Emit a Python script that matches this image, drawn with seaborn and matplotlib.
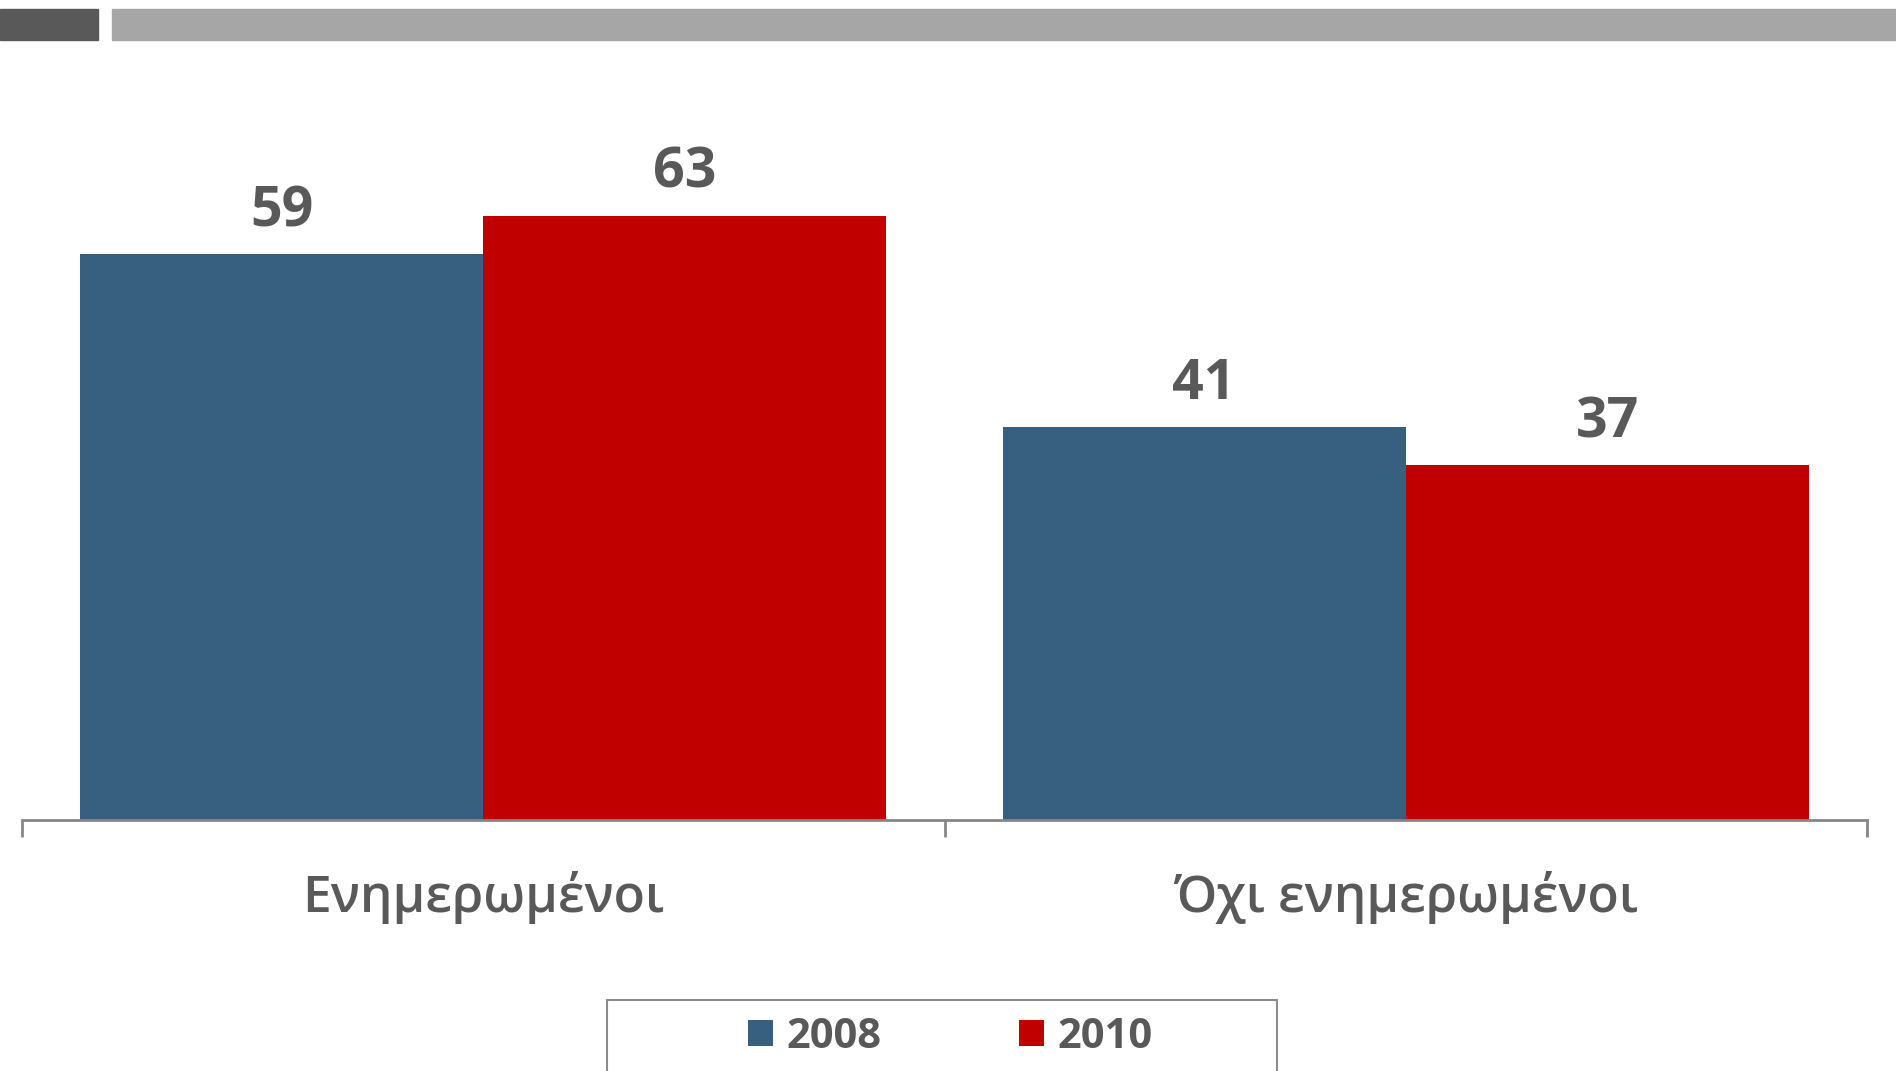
import matplotlib
matplotlib.use("Agg")
import matplotlib.pyplot as plt
from matplotlib.patches import Rectangle
import seaborn as sns
import pandas as pd

# chart data
groups = ['Ενημερωμένοι', 'Όχι ενημερωμένοι']
years = ['2008', '2010']
values_2008 = [59, 41]
values_2010 = [63, 37]

blue = '#375F80'
red = '#C00000'
grey_text = '#595959'

df = pd.DataFrame({
    'group': groups * 2,
    'year': [years[0]] * 2 + [years[1]] * 2,
    'value': values_2008 + values_2010,
})

sns.set_style('white')
plt.rcParams['font.family'] = ['Open Sans', 'DejaVu Sans']

W, H = 1896, 1071
fig = plt.figure(figsize=(W / 100, H / 100), dpi=100)
ax = fig.add_axes([22 / W, 1 - 820 / H, (1867 - 22) / W, (820 - 80) / H])

sns.barplot(data=df, x='group', y='value', hue='year', palette=[blue, red],
            width=0.874, saturation=1, linewidth=0, ax=ax)

for cont in ax.containers:
    ax.bar_label(cont, padding=11, fontsize=40, fontweight='bold', color=grey_text)

ax.set_xlim(-0.5, 1.5)
ax.set_ylim(0, 77.2)
ax.set_xlabel('')
ax.set_ylabel('')
ax.set_yticks([])
for s in ['top', 'left', 'right']:
    ax.spines[s].set_visible(False)
ax.spines['bottom'].set_color('#868686')
ax.spines['bottom'].set_linewidth(2)
ax.set_xticks([-0.5, 0.5, 1.5], minor=True)
ax.tick_params(axis='x', which='minor', bottom=True, length=12, width=2,
               color='#868686', direction='out')
ax.tick_params(axis='x', which='major', bottom=True, length=0, pad=37,
               labelsize=37, labelcolor=grey_text)
for t in ax.get_xticklabels():
    t.set_fontweight('semibold')

# legend
handles, labels = ax.get_legend_handles_labels()
ax.get_legend().remove()
fig.legend(handles, labels, loc='center', bbox_to_anchor=(950 / W, 1 - 1037 / H),
           ncol=2, frameon=False, prop={'size': 30, 'weight': 'bold'},
           labelcolor=grey_text, handlelength=0.6, handleheight=0.6,
           handletextpad=0.32, columnspacing=3.3)
fig.patches.append(Rectangle((607 / W, -0.05), (1277 - 607) / W, 0.05 + 1 - 1000 / H,
                             transform=fig.transFigure, fill=False,
                             edgecolor='#8C8C8C', linewidth=1.5))

# header strips
fig.patches.append(Rectangle((0, 1 - 40 / H), 98 / W, 31 / H, transform=fig.transFigure,
                             color='#595959', zorder=0))
fig.patches.append(Rectangle((112 / W, 1 - 40 / H), (W - 112) / W, 31 / H,
                             transform=fig.transFigure, color='#A6A6A6', zorder=0))

fig.savefig('out.png', dpi=100)
